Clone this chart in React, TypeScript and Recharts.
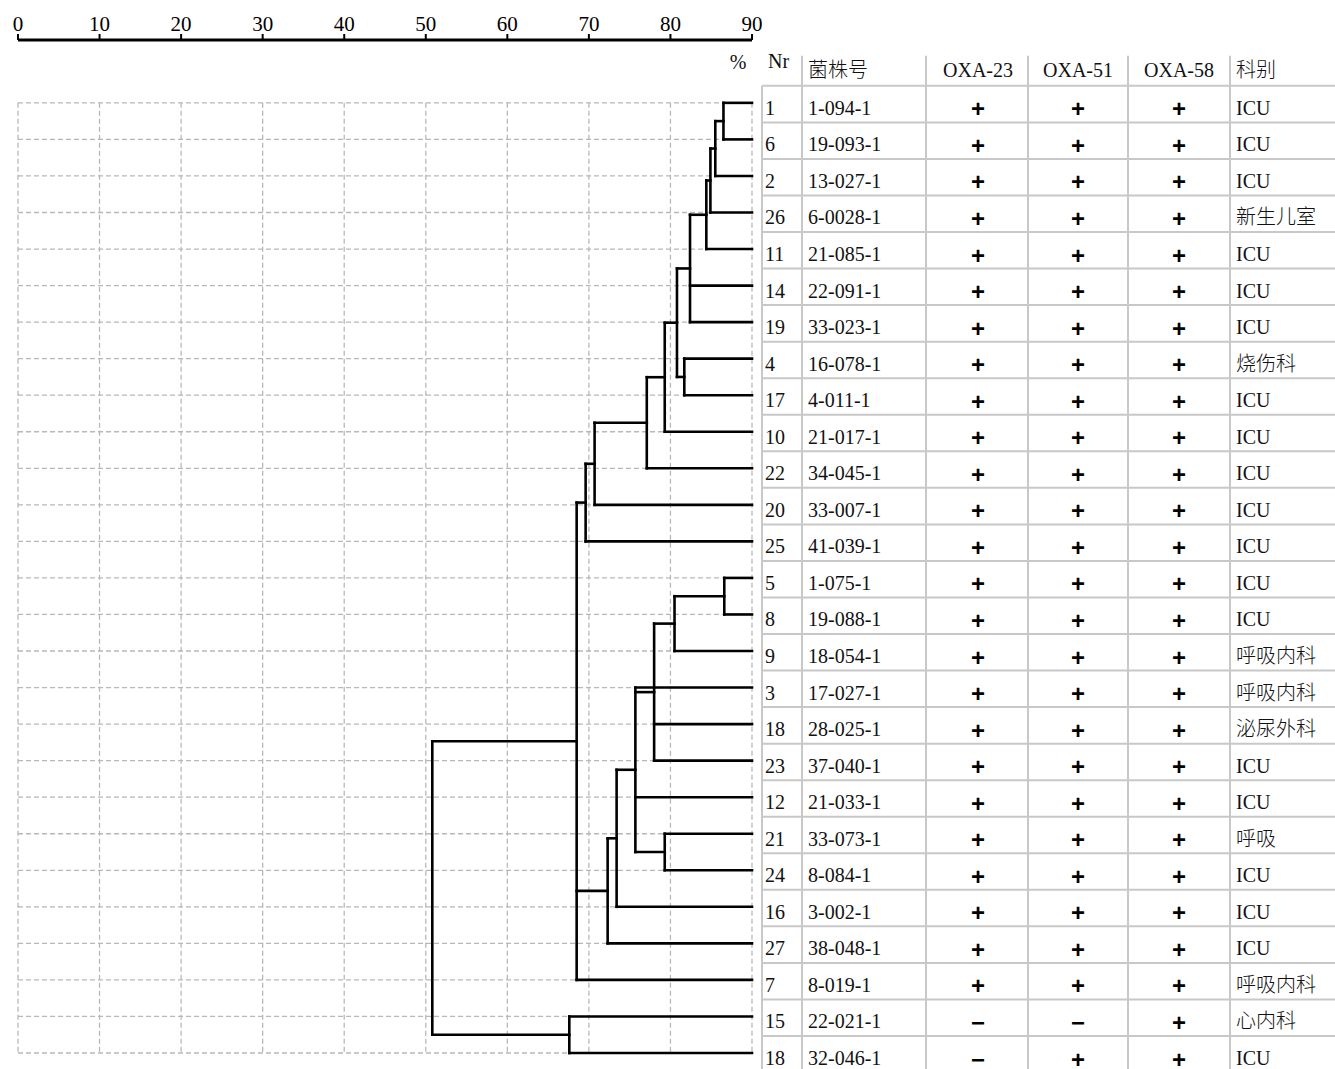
import React from "react";
import { ComposedChart, XAxis, YAxis, ReferenceLine, Scatter } from "recharts";

// similarity axis (%)
const simTicks = [0, 10, 20, 30, 40, 50, 60, 70, 80, 90];

// leaves, top to bottom
const leafNr = [1, 6, 2, 26, 11, 14, 19, 4, 17, 10, 22, 20, 25, 5, 8, 9, 3, 18, 23, 12, 21, 24, 16, 27, 7, 15, 18];
const strainIds = [
  "1-094-1", "19-093-1", "13-027-1", "6-0028-1", "21-085-1", "22-091-1", "33-023-1",
  "16-078-1", "4-011-1", "21-017-1", "34-045-1", "33-007-1", "41-039-1", "1-075-1",
  "19-088-1", "18-054-1", "17-027-1", "28-025-1", "37-040-1", "21-033-1", "33-073-1",
  "8-084-1", "3-002-1", "38-048-1", "8-019-1", "22-021-1", "32-046-1",
];
const oxa23 = ["+", "+", "+", "+", "+", "+", "+", "+", "+", "+", "+", "+", "+", "+", "+", "+", "+", "+", "+", "+", "+", "+", "+", "+", "+", "−", "−"];
const oxa51 = ["+", "+", "+", "+", "+", "+", "+", "+", "+", "+", "+", "+", "+", "+", "+", "+", "+", "+", "+", "+", "+", "+", "+", "+", "+", "−", "+"];
const oxa58 = ["+", "+", "+", "+", "+", "+", "+", "+", "+", "+", "+", "+", "+", "+", "+", "+", "+", "+", "+", "+", "+", "+", "+", "+", "+", "+", "+"];
const wards = [
  "ICU", "ICU", "ICU", "新生儿室", "ICU", "ICU", "ICU", "烧伤科", "ICU", "ICU", "ICU", "ICU", "ICU", "ICU",
  "ICU", "呼吸内科", "呼吸内科", "泌尿外科", "ICU", "ICU", "呼吸", "ICU", "ICU", "ICU", "呼吸内科", "心内科", "ICU",
];
const headers = ["菌株号", "OXA-23", "OXA-51", "OXA-58", "科别"];

// cluster joins: children are leaf rows (number) or earlier joins ("m" + index)
const mergeChildren: (number | string)[][] = [
  [0, 1], ["m0", 2], ["m1", 3], ["m2", 4], ["m3", 5, 6], [7, 8], ["m4", "m5"], ["m6", 9],
  ["m7", 10], ["m8", 11], ["m9", 12], [13, 14], ["m11", 15], ["m12", 17, 18], [20, 21],
  [16, "m13", 19, "m14"], ["m15", 22], ["m16", 23], ["m10", "m17", 24], [25, 26], ["m18", "m19"],
];
const mergeSim = [86.5, 85.5, 84.9, 84.4, 82.4, 81.7, 80.8, 79.3, 77.1, 70.7, 69.6, 86.6, 80.5, 78.0, 79.3, 75.7, 73.4, 72.3, 68.5, 67.6, 50.8];

const LEAF_SIM = 90;
const SERIF = "'Liberation Serif', 'Noto Sans CJK SC', serif";
const GRID = "#b8b8b8";
const RULE = "#c8c8c8";
const colLines = [762, 802, 926, 1028, 1128, 1230];
const oxaX = [978, 1078, 1179];

type Seg = { x1: number; y1: number; x2: number; y2: number };

function buildTree(): Seg[] {
  const pos: Record<string, { x: number; y: number }> = {};
  leafNr.forEach((_, i) => (pos[String(i)] = { x: LEAF_SIM, y: i }));
  const segs: Seg[] = [];
  mergeChildren.forEach((kids, m) => {
    const sim = mergeSim[m];
    const ys = kids.map((k) => pos[String(k)].y);
    kids.forEach((k) => {
      const c = pos[String(k)];
      segs.push({ x1: c.x, y1: c.y, x2: sim, y2: c.y });
    });
    const lo = Math.min(...ys);
    const hi = Math.max(...ys);
    segs.push({ x1: sim, y1: lo, x2: sim, y2: hi });
    pos["m" + m] = { x: sim, y: (lo + hi) / 2 };
  });
  return segs;
}

function buildGrid(): Seg[] {
  const last = leafNr.length - 1;
  const v = simTicks.map((t) => ({ x1: t, y1: 0, x2: t, y2: last }));
  const h = leafNr.map((_, i) => ({ x1: 0, y1: i, x2: LEAF_SIM, y2: i }));
  return [...v, ...h];
}

function TableHead({ top }: { top: number }) {
  const hy = top - 16;
  return (
    <g fontFamily={SERIF} fontSize={20} fill="#111">
      <text x={738} y={top - 24} textAnchor="middle" dominantBaseline="central">%</text>
      <text x={768} y={top - 25} dominantBaseline="central">Nr</text>
      {colLines.slice(1).map((x) => (
        <line key={"hs" + x} x1={x} x2={x} y1={top - 30} y2={top} stroke={RULE} strokeWidth={2} />
      ))}
      {colLines.map((x) => (
        <line key={"cl" + x} x1={x} x2={x} y1={top} y2={1069} stroke={RULE} strokeWidth={2} />
      ))}
      <text x={808} y={hy} dominantBaseline="central" fontWeight={300}>{headers[0]}</text>
      {oxaX.map((x, k) => (
        <text key={"h" + k} x={x} y={hy} textAnchor="middle" dominantBaseline="central">{headers[k + 1]}</text>
      ))}
      <text x={1236} y={hy} dominantBaseline="central" fontWeight={300}>{headers[4]}</text>
    </g>
  );
}

function TableTick(props: any) {
  const { y, payload } = props;
  const i = payload.value as number;
  const marks = [oxa23[i], oxa51[i], oxa58[i]];
  const ty = y + 5;
  return (
    <g>
      <line x1={762} x2={1335} y1={y - 17} y2={y - 17} stroke={RULE} strokeWidth={2} />
      {i === 0 && <TableHead top={y - 17} />}
      <g fontFamily={SERIF} fontSize={20} fill="#111">
        <text x={765} y={ty} dominantBaseline="central">{leafNr[i]}</text>
        <text x={808} y={ty} dominantBaseline="central">{strainIds[i]}</text>
        <text x={1236} y={ty} dominantBaseline="central" fontWeight={300}>{wards[i]}</text>
      </g>
      {marks.map((m, k) => (
        <text key={k} x={oxaX[k]} y={y + 6} textAnchor="middle" dominantBaseline="central"
          fontFamily="'Liberation Sans', Arial, sans-serif" fontSize={24} fontWeight={700} fill="#000">
          {m}
        </text>
      ))}
    </g>
  );
}

export default function App() {
  const tree = buildTree();
  const grid = buildGrid();
  const rows = leafNr.map((_, i) => i);
  const leaves = leafNr.map((_, i) => ({ sim: LEAF_SIM, row: i }));

  return (
    <div style={{ position: "absolute", left: 0, top: 0, background: "#fff" }}>
      <ComposedChart width={1335} height={1069} margin={{ top: 0, right: 0, bottom: 16, left: 18 }}>
        <XAxis
          type="number"
          dataKey="sim"
          orientation="top"
          domain={[0, 90]}
          ticks={simTicks}
          interval={0}
          allowDataOverflow
          height={40}
          tickSize={6}
          tickMargin={3}
          axisLine={{ stroke: "#000", strokeWidth: 3 }}
          tickLine={{ stroke: "#000", strokeWidth: 2 }}
          tick={{ fill: "#000", fontSize: 21, fontFamily: SERIF }}
        />
        <YAxis
          type="number"
          dataKey="row"
          orientation="right"
          reversed
          domain={[-1.72, 26]}
          ticks={rows}
          interval={0}
          allowDataOverflow
          width={583}
          axisLine={false}
          tickLine={false}
          tick={(p: any) => <TableTick {...p} />}
        />
        {grid.map((s, k) => (
          <ReferenceLine key={"g" + k} segment={[{ x: s.x1, y: s.y1 }, { x: s.x2, y: s.y2 }]}
            stroke={GRID} strokeWidth={1.3} strokeDasharray="5 3" />
        ))}
        {tree.map((s, k) => (
          <ReferenceLine key={"t" + k} segment={[{ x: s.x1, y: s.y1 }, { x: s.x2, y: s.y2 }]}
            stroke="#000" strokeWidth={2.6} strokeLinecap="square" />
        ))}
        <Scatter data={leaves} isAnimationActive={false} shape={() => <g />} />
      </ComposedChart>
    </div>
  );
}
